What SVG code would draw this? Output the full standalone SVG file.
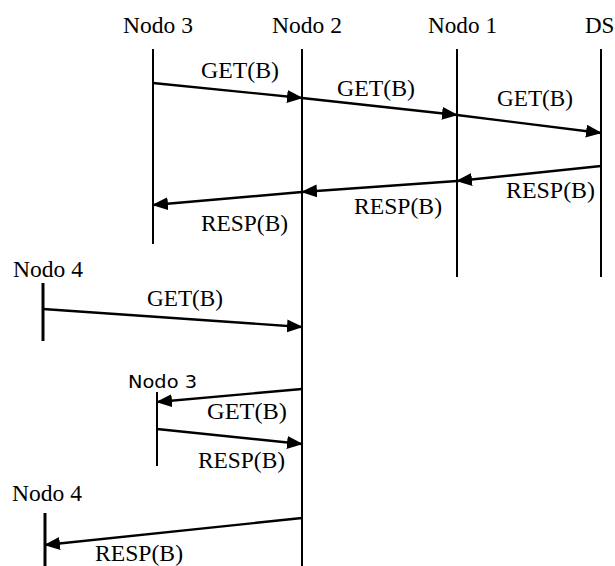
<svg xmlns="http://www.w3.org/2000/svg" width="615" height="566" viewBox="0 0 615 566">
<style>
.t{font-family:'Liberation Serif','Times New Roman',serif;font-size:24px;fill:#000}
.n{font-family:'Liberation Serif','Times New Roman',serif;font-size:23px;fill:#000}
.s{font-family:'DejaVu Sans',sans-serif;font-size:18px;fill:#000}
.life{stroke:#000;stroke-width:2;fill:none}
.life3{stroke:#000;stroke-width:3;fill:none}
.msg{stroke:#000;stroke-width:2.4;fill:none;marker-end:url(#ah)}
</style>
<defs>
<marker id="ah" markerWidth="16" markerHeight="13" refX="15" refY="6.5" orient="auto" markerUnits="userSpaceOnUse">
<path d="M0,0 L16,6.5 L0,13 Z" fill="#000"/>
</marker>
</defs>
<rect width="615" height="566" fill="#fff"/>
<g id="nodo3">
<text class="n" x="123" y="33" textLength="70" lengthAdjust="spacingAndGlyphs">Nodo 3</text>
<line class="life" x1="153" y1="49" x2="153" y2="244"/>
</g>
<g id="nodo2">
<text class="n" x="272" y="33" textLength="70" lengthAdjust="spacingAndGlyphs">Nodo 2</text>
<line class="life" x1="302" y1="49" x2="302" y2="566"/>
</g>
<g id="nodo1">
<text class="n" x="428" y="33" textLength="69" lengthAdjust="spacingAndGlyphs">Nodo 1</text>
<line class="life" x1="457" y1="49" x2="457" y2="277"/>
</g>
<g id="ds">
<text class="n" x="585" y="33">DS</text>
<line class="life" x1="601" y1="49" x2="601" y2="277"/>
</g>
<g id="nodo4a">
<text class="n" x="13" y="277" textLength="70" lengthAdjust="spacingAndGlyphs">Nodo 4</text>
<line class="life3" x1="43" y1="283" x2="43" y2="341"/>
</g>
<g id="nodo3b">
<text class="s" x="128" y="388" textLength="69" lengthAdjust="spacingAndGlyphs">Nodo 3</text>
<line class="life" x1="157" y1="392" x2="157" y2="466"/>
</g>
<g id="nodo4b">
<text class="n" x="12" y="501" textLength="70" lengthAdjust="spacingAndGlyphs">Nodo 4</text>
<line class="life3" x1="45" y1="513" x2="45" y2="566"/>
</g>
<g id="connectors">
<line class="msg" x1="153" y1="83" x2="302" y2="98"/>
<line class="msg" x1="302" y1="98" x2="457" y2="115"/>
<line class="msg" x1="457" y1="115" x2="601" y2="133"/>
<line class="msg" x1="601" y1="166" x2="457" y2="181"/>
<line class="msg" x1="457" y1="181" x2="302" y2="192"/>
<line class="msg" x1="302" y1="192" x2="153" y2="205"/>
<line class="msg" x1="43" y1="309" x2="302" y2="327"/>
<line class="msg" x1="302" y1="389" x2="157" y2="402"/>
<line class="msg" x1="157" y1="429" x2="302" y2="444"/>
<line class="msg" x1="302" y1="518" x2="45" y2="545"/>
</g>
<g id="labels">
<text class="t" x="201" y="78" textLength="78" lengthAdjust="spacingAndGlyphs">GET(B)</text>
<text class="t" x="337" y="96" textLength="78" lengthAdjust="spacingAndGlyphs">GET(B)</text>
<text class="t" x="497" y="106" textLength="76" lengthAdjust="spacingAndGlyphs">GET(B)</text>
<text class="t" x="506" y="198" textLength="89" lengthAdjust="spacingAndGlyphs">RESP(B)</text>
<text class="t" x="354" y="214" textLength="88" lengthAdjust="spacingAndGlyphs">RESP(B)</text>
<text class="t" x="201" y="231" textLength="87" lengthAdjust="spacingAndGlyphs">RESP(B)</text>
<text class="t" x="147" y="306" textLength="76" lengthAdjust="spacingAndGlyphs">GET(B)</text>
<text class="t" x="207" y="419" textLength="80" lengthAdjust="spacingAndGlyphs">GET(B)</text>
<text class="t" x="198" y="468" textLength="87" lengthAdjust="spacingAndGlyphs">RESP(B)</text>
<text class="t" x="95" y="561" textLength="88" lengthAdjust="spacingAndGlyphs">RESP(B)</text>
</g>
</svg>
